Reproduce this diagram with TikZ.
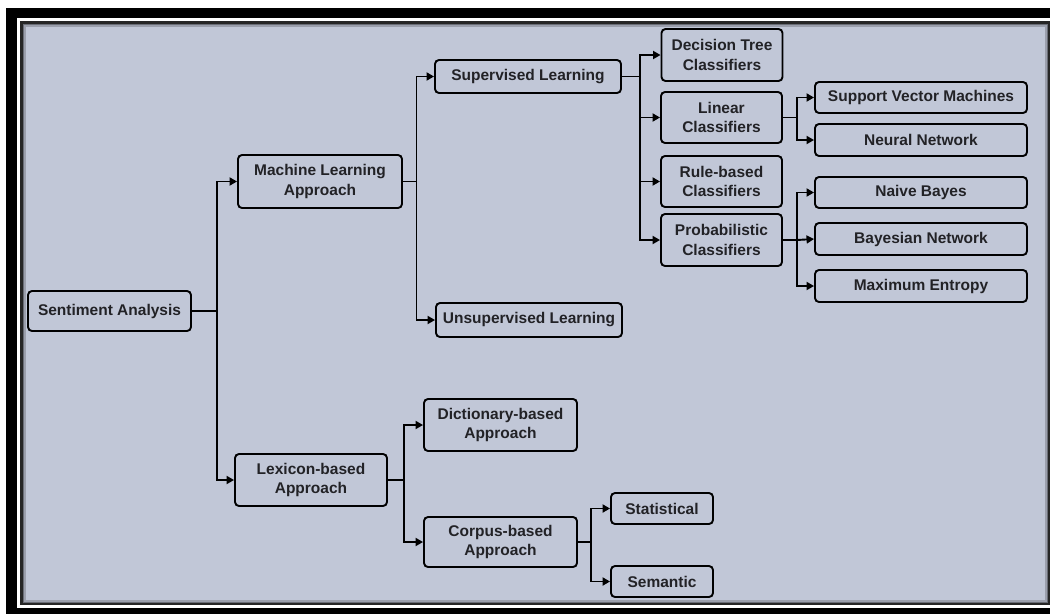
\documentclass[tikz,border=0pt]{standalone}
\usepackage{fontspec}
\setmainfont{Liberation Sans}
\usetikzlibrary{arrows.meta}
\definecolor{bg}{HTML}{C1C7D7}
\definecolor{txt}{HTML}{222226}
\begin{document}
\begin{tikzpicture}[x=1pt,y=-1pt,
  box/.style={draw=black, line width=1.9pt, rounded corners=4pt, fill=bg,
    inner sep=0pt, align=center, text=txt,
    font=\fontsize{15.5}{19.5}\selectfont\bfseries},
  conn/.style={draw=black, line width=1.9pt},
  arr/.style={conn, -{Triangle[length=7.5pt,width=8pt]}}]
% frame
\useasboundingbox (0,0) rectangle (1050,614);
\fill[white] (0,0) rectangle (1050,614);
\fill[black] (6,8) rectangle (1050,614);
\fill[white] (17,18) rectangle (1050,608);
\fill[black!85] (20,21) rectangle (1050,605);
\fill[bg!55!black] (22.5,23.5) rectangle (1048,603);
\fill[bg!80!black] (24,25) rectangle (1046.5,601.5);
\fill[bg] (26,27) rectangle (1045,600);
% nodes
\node[box, minimum width=163pt, minimum height=40pt] (sa) at (109.5,311) {Sentiment Analysis};
\node[box, minimum width=164pt, minimum height=53pt] (ml) at (320,181.5) {Machine Learning\\Approach};
\node[box, minimum width=152pt, minimum height=52pt] (lex) at (311,480) {Lexicon-based\\Approach};
\node[box, minimum width=186pt, minimum height=33pt] (sup) at (528,76.5) {Supervised Learning};
\node[box, minimum width=186pt, minimum height=34pt] (uns) at (529,320) {Unsupervised Learning};
\node[box, minimum width=121pt, minimum height=52pt] (dt) at (722,55) {Decision Tree\\Classifiers};
\node[box, minimum width=121pt, minimum height=51pt] (lin) at (721.5,117.5) {Linear\\Classifiers};
\node[box, minimum width=121pt, minimum height=51pt] (rule) at (721.5,181.5) {Rule-based\\Classifiers};
\node[box, minimum width=121pt, minimum height=52pt] (prob) at (721.5,240) {Probabilistic\\Classifiers};
\node[box, minimum width=212pt, minimum height=31pt] (svm) at (921,97.5) {Support Vector Machines};
\node[box, minimum width=212pt, minimum height=32pt] (nn) at (921,140) {Neural Network};
\node[box, minimum width=212pt, minimum height=31pt] (nb) at (921,192.5) {Naive Bayes};
\node[box, minimum width=212pt, minimum height=32pt] (bn) at (921,239) {Bayesian Network};
\node[box, minimum width=212pt, minimum height=32pt] (me) at (921,286) {Maximum Entropy};
\node[box, minimum width=153pt, minimum height=52pt] (dict) at (500.5,425) {Dictionary-based\\Approach};
\node[box, minimum width=153pt, minimum height=50pt] (corp) at (500.5,542) {Corpus-based\\Approach};
\node[box, minimum width=102pt, minimum height=31pt] (stat) at (662,508.5) {Statistical};
\node[box, minimum width=102pt, minimum height=31pt] (sem) at (662,581.5) {Semantic};
% junctions
\coordinate (jsa) at (217,311);
\coordinate (jml) at (416.5,181.5);
\coordinate (jsup) at (640,76.5);
\coordinate (jlin) at (797,117.5);
\coordinate (jprob) at (797,240);
\coordinate (jlex) at (404,480);
\coordinate (jcorp) at (591,542);
% connectors
\draw[conn] (sa.east) -- (jsa);
\draw[arr] (jsa) |- (ml.west);
\draw[arr] (jsa) |- (lex.west);
\draw[conn] (ml.east) -- (jml);
\draw[arr] (jml) |- (sup.west);
\draw[arr] (jml) |- (uns.west);
\draw[conn] (sup.east) -- (jsup);
\draw[arr] (jsup) |- (dt.west);
\draw[arr] (jsup) |- (lin.west);
\draw[arr] (jsup) |- (rule.west);
\draw[arr] (jsup) |- (prob.west);
\draw[conn] (lin.east) -- (jlin);
\draw[arr] (jlin) |- (svm.west);
\draw[arr] (jlin) |- (nn.west);
\draw[conn] (prob.east) -- (jprob);
\draw[arr] (jprob) |- (nb.west);
\draw[arr] (jprob) -- (bn.west);
\draw[arr] (jprob) |- (me.west);
\draw[conn] (lex.east) -- (jlex);
\draw[arr] (jlex) |- (dict.west);
\draw[arr] (jlex) |- (corp.west);
\draw[conn] (corp.east) -- (jcorp);
\draw[arr] (jcorp) |- (stat.west);
\draw[arr] (jcorp) |- (sem.west);
\end{tikzpicture}
\end{document}
